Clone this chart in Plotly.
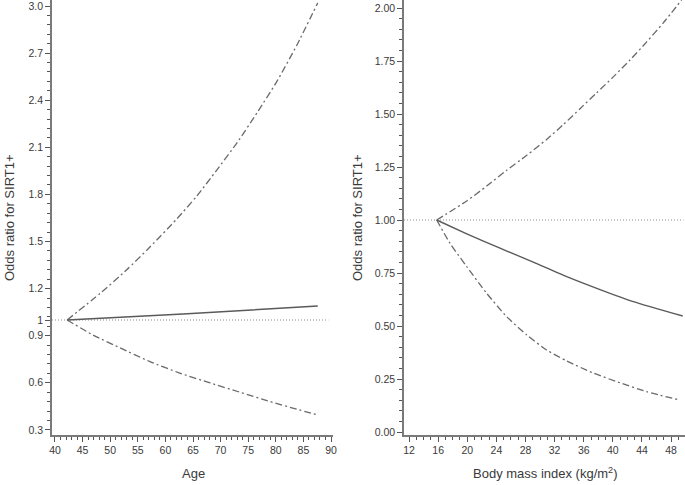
import plotly.graph_objects as go

# ---- Left panel: Age ----
age_upper_x = [42.2, 48.2, 53.0, 57.2, 62.1, 65.7, 69.3, 73.0, 76.6, 80.2, 83.8, 87.6]
age_upper_y = [1.0, 1.17, 1.32, 1.465, 1.645, 1.79, 1.955, 2.13, 2.32, 2.52, 2.75, 3.02]
age_lower_x = [42.2, 46.9, 51.8, 57.2, 62.6, 68.1, 73.5, 79.0, 83.8, 87.6]
age_lower_y = [1.0, 0.904, 0.822, 0.735, 0.662, 0.599, 0.54, 0.48, 0.432, 0.395]
age_or_x = [42.2, 63.2, 87.6]
age_or_y = [1.0, 1.038, 1.089]
age_ref_x = [39.46, 89.5]
age_ref_y = [1.0, 1.0]

age_ticks = [40, 45, 50, 55, 60, 65, 70, 75, 80, 85, 90]
or_left_ticks = [0.3, 0.6, 0.9, 1, 1.2, 1.5, 1.8, 2.1, 2.4, 2.7, 3.0]
or_left_text = ["0.3", "0.6", "0.9", "1", "1.2", "1.5", "1.8", "2.1", "2.4", "2.7", "3.0"]

# ---- Right panel: BMI ----
bmi_upper_x = [15.8, 19.93, 22.67, 25.42, 28.17, 30.9, 33.2, 35.49, 37.78, 40.06, 42.36, 44.65, 46.93, 49.46]
bmi_upper_y = [1.0, 1.09, 1.16, 1.235, 1.305, 1.38, 1.45, 1.525, 1.6, 1.675, 1.755, 1.84, 1.93, 2.038]
bmi_lower_x = [15.8, 17.63, 19.93, 22.67, 25.42, 28.17, 30.9, 33.66, 37.31, 40.98, 44.65, 49.13]
bmi_lower_y = [1.0, 0.89, 0.78, 0.654, 0.544, 0.458, 0.387, 0.335, 0.278, 0.232, 0.19, 0.151]
bmi_or_x = [15.8, 19.93, 24.5, 29.07, 33.66, 38.24, 42.81, 49.6]
bmi_or_y = [1.0, 0.935, 0.867, 0.801, 0.733, 0.672, 0.615, 0.547]
bmi_ref_x = [11.31, 49.7]
bmi_ref_y = [1.0, 1.0]

bmi_ticks = [12, 16, 20, 24, 28, 32, 36, 40, 44, 48]
or_right_ticks = [0.0, 0.25, 0.5, 0.75, 1.0, 1.25, 1.5, 1.75, 2.0]
or_right_text = ["0.00", "0.25", "0.50", "0.75", "1.00", "1.25", "1.50", "1.75", "2.00"]

W, H = 685, 485
MB = 50
PH = H - MB

FONT = "Arial, 'Liberation Sans', Helvetica, sans-serif"
TXT = "#3a3a3a"
CI_DASH = "7px,3px,2px,3px"
CI_COL = "#6a6a6a"
OR_COL = "#5a5a5a"
REF_COL = "#8a8a8a"

fig = go.Figure()

def add(x, y, xa, ya, color, dash, width, shape="spline"):
    fig.add_trace(go.Scatter(x=x, y=y, xaxis=xa, yaxis=ya, mode="lines",
                             line=dict(color=color, dash=dash, width=width, shape=shape, smoothing=0.6),
                             showlegend=False, hoverinfo="skip"))

add(age_ref_x, age_ref_y, "x", "y", REF_COL, "1px,2px", 1.0, "linear")
add(age_upper_x, age_upper_y, "x", "y", CI_COL, CI_DASH, 1.3)
add(age_lower_x, age_lower_y, "x", "y", CI_COL, CI_DASH, 1.3)
add(age_or_x, age_or_y, "x", "y", OR_COL, "solid", 1.4)

add(bmi_ref_x, bmi_ref_y, "x2", "y2", REF_COL, "1px,2px", 1.0, "linear")
add(bmi_upper_x, bmi_upper_y, "x2", "y2", CI_COL, CI_DASH, 1.3)
add(bmi_lower_x, bmi_lower_y, "x2", "y2", CI_COL, CI_DASH, 1.3)
add(bmi_or_x, bmi_or_y, "x2", "y2", OR_COL, "solid", 1.4)

axis_common = dict(showgrid=False, zeroline=False, showline=True, linecolor="#7a7a7a", linewidth=1.5,
                   ticks="outside", ticklen=5, tickwidth=1, tickcolor="#555",
                   automargin=False, ticklabeloverflow="allow",
                   tickfont=dict(family=FONT, size=10.5, color=TXT))

fig.update_layout(
    width=W, height=H,
    margin=dict(l=0, r=0, t=0, b=MB, pad=0, autoexpand=False),
    paper_bgcolor="white", plot_bgcolor="white",
    hovermode=False,
    xaxis=dict(domain=[52 / W, 333 / W], range=[39.46, 90.36], tickvals=age_ticks,
               minor=dict(dtick=1, tick0=40, ticks="outside", ticklen=3, tickcolor="#555"),
               anchor="y", **axis_common),
    yaxis=dict(domain=[0, 1], range=[1 - 115 / 157, 1 + 320 / 157], tickvals=or_left_ticks,
               ticktext=or_left_text,
               minor=dict(dtick=0.06, tick0=0.3, ticks="outside", ticklen=3, tickcolor="#555"),
               anchor="x", **axis_common),
    xaxis2=dict(domain=[404 / W, 1.0], range=[11.31, 49.91], tickvals=bmi_ticks,
                minor=dict(dtick=1, tick0=12, ticks="outside", ticklen=3, tickcolor="#555"),
                anchor="y2", **axis_common),
    yaxis2=dict(domain=[0, 1], range=[1 - 215 / 212, 1 + 220 / 212], tickvals=or_right_ticks,
                ticktext=or_right_text,
                minor=dict(dtick=0.05, tick0=0, ticks="outside", ticklen=3, tickcolor="#555"),
                anchor="x2", **axis_common),
)

def ann(text, xpx, ypx, angle=0):
    fig.add_annotation(text=text, xref="paper", yref="paper",
                       x=xpx / W, y=(PH - ypx) / PH, showarrow=False, textangle=angle,
                       xanchor="center", yanchor="middle",
                       font=dict(family=FONT, size=13, color=TXT))

ann("Odds ratio for SIRT1+", 10, 218, -90)
ann("Odds ratio for SIRT1+", 358, 218, -90)
ann("Age", 193, 473)
ann("Body mass index (kg/m<sup>2</sup>)", 545, 473)

fig.write_html("out.html",
               config={"displayModeBar": False},
               post_script="document.body.style.margin='0';document.body.style.overflow='hidden';")
